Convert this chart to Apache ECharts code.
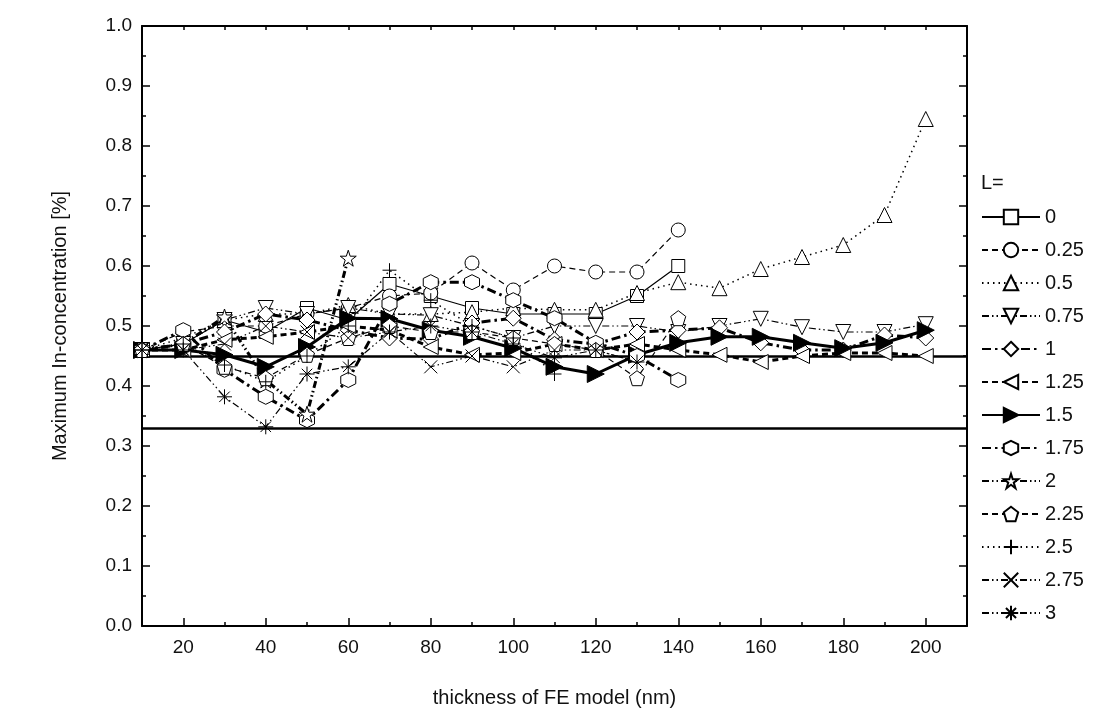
<!DOCTYPE html>
<html>
<head>
<meta charset="utf-8">
<script src="https://cdn.jsdelivr.net/npm/echarts@6/dist/echarts.min.js"></script>
<style>
  html, body { margin: 0; padding: 0; background: #fff; }
  #chart { width: 1114px; height: 722px; }
</style>
</head>
<body>
<div id="chart"></div>
<script>
// thickness values (nm)
const thickness = [10, 20, 30, 40, 50, 60, 70, 80, 90, 100, 110, 120, 130, 140, 150, 160, 170, 180, 190, 200];
const xMajorTicks = [20, 40, 60, 80, 100, 120, 140, 160, 180, 200];
const xMinorTicks = [10, 30, 50, 70, 90, 110, 130, 150, 170, 190, 210];
const refLevels = [0.45, 0.325];

// one array per L value
const l0   = [0.46, 0.47, 0.51, 0.49, 0.53, 0.51, 0.57, 0.55, 0.53, 0.52, 0.52, 0.52, 0.55, 0.60];
const l025 = [0.46, 0.49, 0.50, 0.50, 0.52, 0.53, 0.55, 0.555, 0.605, 0.56, 0.60, 0.59, 0.59, 0.66];
const l05  = [0.46, 0.48, 0.51, 0.52, 0.52, 0.535, 0.52, 0.52, 0.523, 0.53, 0.527, 0.527, 0.555, 0.573, 0.563, 0.595, 0.615, 0.635, 0.685, 0.845];
const l075 = [0.46, 0.47, 0.51, 0.53, 0.52, 0.53, 0.52, 0.518, 0.50, 0.48, 0.50, 0.50, 0.50, 0.49, 0.50, 0.512, 0.498, 0.49, 0.49, 0.503];
const l1   = [0.46, 0.47, 0.49, 0.52, 0.51, 0.493, 0.48, 0.478, 0.505, 0.513, 0.477, 0.47, 0.49, 0.493, 0.497, 0.472, 0.46, 0.46, 0.485, 0.48];
const l125 = [0.46, 0.46, 0.477, 0.482, 0.49, 0.50, 0.493, 0.465, 0.452, 0.455, 0.47, 0.46, 0.47, 0.46, 0.452, 0.44, 0.45, 0.455, 0.455, 0.45];
const l15  = [0.46, 0.46, 0.452, 0.432, 0.465, 0.513, 0.512, 0.493, 0.482, 0.463, 0.432, 0.42, 0.452, 0.472, 0.482, 0.482, 0.472, 0.463, 0.472, 0.493];
const l175 = [0.46, 0.493, 0.427, 0.382, 0.343, 0.41, 0.537, 0.573, 0.573, 0.543, 0.513, 0.472, 0.45, 0.41];
const l2   = [0.46, 0.47, 0.515, 0.41, 0.353, 0.613];
const l225 = [0.46, 0.47, 0.432, 0.413, 0.452, 0.48, 0.50, 0.49, 0.49, 0.48, 0.47, 0.46, 0.413, 0.513];
const l25  = [0.46, 0.47, 0.435, 0.407, 0.45, 0.50, 0.593, 0.543, 0.50, 0.48, 0.42];
const l275 = [0.46, 0.46, 0.47, 0.50, 0.49, 0.48, 0.49, 0.432, 0.45, 0.432, 0.46, 0.46, 0.44];
const l3   = [0.46, 0.46, 0.382, 0.332, 0.42, 0.432, 0.49, 0.50, 0.49, 0.47, 0.447, 0.46, 0.44];

const seriesNames = ['0', '0.25', '0.5', '0.75', '1', '1.25', '1.5', '1.75', '2', '2.25', '2.5', '2.75', '3'];
const seriesValues = [l0, l025, l05, l075, l1, l125, l15, l175, l2, l225, l25, l275, l3];

const FONT = '"Liberation Sans", Arial, sans-serif';

const HEX = 'path://M5,0 L9.33,2.5 L9.33,7.5 L5,10 L0.67,7.5 L0.67,2.5 Z';
const PENT = 'path://M5,0 L10,3.8 L8.1,10 L1.9,10 L0,3.8 Z';
const STAR = 'path://M5,0 L6.2,3.6 L10,3.6 L6.9,5.9 L8.1,9.6 L5,7.3 L1.9,9.6 L3.1,5.9 L0,3.6 L3.8,3.6 Z';
const PLUS = 'path://M5,0 L5,10 M0,5 L10,5';
const CROSS = 'path://M0,0 L10,10 M10,0 L0,10';
const ASTER = 'path://M5,0 L5,10 M0,5 L10,5 M1.5,1.5 L8.5,8.5 M8.5,1.5 L1.5,8.5';

const dashed = [6, 4];
const dotted = [1.5, 4];
const dashDotDot = [7, 3, 1.5, 3, 1.5, 3];
const dashDot = [9, 4, 2.5, 4];

// style per series, same order as seriesNames
const looks = [
  { symbol: 'rect', size: 13, rot: 0, width: 1.2, type: 'solid' },
  { symbol: 'circle', size: 14, rot: 0, width: 1.2, type: dashed },
  { symbol: 'triangle', size: 15, rot: 0, width: 1.5, type: dotted },
  { symbol: 'triangle', size: 15, rot: 180, width: 1.2, type: dashDotDot },
  { symbol: 'diamond', size: 16, rot: 0, width: 3, type: dashDot },
  { symbol: 'triangle', size: 15, rot: 90, width: 3, type: dashed },
  { symbol: 'triangle', size: 17, rot: -90, width: 3, type: 'solid', filled: true },
  { symbol: HEX, size: 15, rot: 0, width: 3, type: dashDot },
  { symbol: STAR, size: 16, rot: 0, width: 3, type: dashDotDot },
  { symbol: PENT, size: 15, rot: 0, width: 1.2, type: dashed },
  { symbol: PLUS, size: 14, rot: 0, width: 1.5, type: dotted },
  { symbol: CROSS, size: 13, rot: 0, width: 1.2, type: dashDotDot },
  { symbol: ASTER, size: 15, rot: 0, width: 1.2, type: dashDotDot },
];

const series = seriesNames.map((name, i) => {
  const lk = looks[i];
  const s = {
    name: name,
    type: 'line',
    data: seriesValues[i].map((v, j) => [thickness[j], v]),
    symbol: lk.symbol,
    symbolSize: lk.size,
    symbolRotate: lk.rot,
    showAllSymbol: true,
    lineStyle: { color: '#000', width: lk.width, type: lk.type },
    itemStyle: { color: lk.filled ? '#000' : '#fff', borderColor: '#000', borderWidth: 1 },
    emphasis: { disabled: true },
    z: 3,
  };
  if (i === 0) {
    s.markLine = {
      silent: true,
      symbol: 'none',
      label: { show: false },
      lineStyle: { color: '#000', width: 2.5, type: 'solid' },
      data: refLevels.map((v) => ({ yAxis: v })),
      z: 2,
    };
  }
  return s;
});

const axisLine = { show: true, lineStyle: { color: '#000', width: 2 } };

const chart = echarts.init(document.getElementById('chart'), null, { renderer: 'canvas' });
chart.setOption({
  animation: false,
  backgroundColor: '#fff',
  title: {
    text: 'L=',
    left: 976,
    top: 168,
    textStyle: { fontFamily: FONT, fontSize: 20, fontWeight: 'normal', color: '#111' },
  },
  legend: {
    orient: 'vertical',
    left: 976,
    top: 202,
    itemWidth: 58,
    itemHeight: 18,
    itemGap: 13,
    data: seriesNames,
    textStyle: { fontFamily: FONT, fontSize: 20, color: '#111' },
    selectedMode: false,
  },
  grid: { left: 142, top: 26, width: 825, height: 600, containLabel: false },
  xAxis: [
    {
      type: 'value', min: 10, max: 210, interval: 10, position: 'bottom',
      name: 'thickness of FE model (nm)', nameLocation: 'middle', nameGap: 62,
      nameTextStyle: { fontFamily: FONT, fontSize: 20, color: '#111' },
      axisLine: axisLine,
      axisTick: { inside: true, length: 8, customValues: xMajorTicks, lineStyle: { color: '#000', width: 1.5 } },
      axisLabel: {
        customValues: xMajorTicks,
        fontFamily: FONT, fontSize: 19, color: '#111', margin: 12,
        formatter: (v) => (v % 20 === 0 ? String(v) : ''),
      },
      splitLine: { show: false },
    },
    {
      type: 'value', min: 10, max: 210, interval: 10, position: 'bottom',
      axisLine: { show: false },
      axisTick: { inside: true, length: 4, customValues: xMinorTicks, lineStyle: { color: '#000', width: 1.5 } },
      axisLabel: { show: false },
      splitLine: { show: false },
    },
    {
      type: 'value', min: 10, max: 210, interval: 10, position: 'top',
      axisLine: axisLine,
      axisTick: { inside: true, length: 4, lineStyle: { color: '#000', width: 1.5 } },
      axisLabel: { show: false },
      splitLine: { show: false },
    },
  ],
  yAxis: [
    {
      type: 'value', min: 0, max: 1, interval: 0.1, position: 'left',
      name: 'Maximum In-concentration [%]', nameLocation: 'middle', nameGap: 72,
      nameTextStyle: { fontFamily: FONT, fontSize: 20, color: '#111' },
      axisLine: axisLine,
      axisTick: { inside: true, length: 8, lineStyle: { color: '#000', width: 1.5 } },
      minorTick: { show: true, splitNumber: 2, length: 4, lineStyle: { color: '#000', width: 1.5 } },
      axisLabel: { fontFamily: FONT, fontSize: 19, color: '#111', margin: 10, formatter: (v) => v.toFixed(1) },
      splitLine: { show: false },
    },
    {
      type: 'value', min: 0, max: 1, interval: 0.1, position: 'right',
      axisLine: axisLine,
      axisTick: { inside: true, length: 8, lineStyle: { color: '#000', width: 1.5 } },
      minorTick: { show: true, splitNumber: 2, length: 4, lineStyle: { color: '#000', width: 1.5 } },
      axisLabel: { show: false },
      splitLine: { show: false },
    },
  ],
  series: series,
});
</script>
</body>
</html>
